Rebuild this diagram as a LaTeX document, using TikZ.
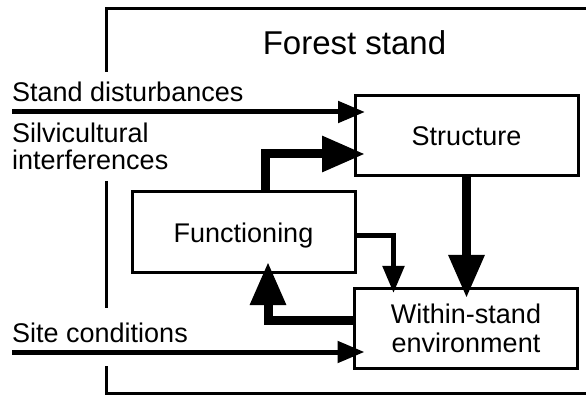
\documentclass[tikz,border=0pt]{standalone}
\usepackage{fontspec}
\setmainfont{Liberation Sans}
\usetikzlibrary{arrows.meta,calc}
\begin{document}
\begin{tikzpicture}[x=1pt,y=-1pt,
  box/.style={draw,line width=3pt,inner sep=0pt,outer sep=0pt,align=center,
    minimum width=223pt,minimum height=80pt,font=\fontsize{27}{29}\selectfont},
  lbl/.style={anchor=base west,inner sep=0pt,font=\fontsize{27}{29}\selectfont},
  frame/.style={line width=3pt},
  midarrow/.style={line width=5pt,-{Triangle[length=27pt,width=21pt]}},
  bigarrow/.style={line width=9pt,line join=miter,-{Triangle[length=43pt,width=34pt]}}]
\path[use as bounding box] (0,0) rectangle (586,395);
% frame of the forest stand
\draw[frame] (586,9) -- (106,9) -- (106,72);
\draw[frame] (106,181) -- (106,308);
\draw[frame] (106,366) -- (106,393) -- (586,393);
\node[anchor=base,inner sep=0pt,font=\fontsize{33}{33}\selectfont] (fs) at (354.5,55) {Forest stand};
% boxes
\node[box] (struct) at (466.5,136) {Structure};
\node[box,minimum height=81pt,text depth=0pt] (func) at (243.5,232.5) {Functioning};
\node[box] (within) at (466,328) {Within-stand\\environment};
% outside labels
\node[lbl] (sd) at (12,102) {Stand disturbances};
\node[lbl] (si1) at (12,143) {Silvicultural};
\node[lbl] (si2) at (12,170) {interferences};
\node[lbl] (sc) at (12,342) {Site conditions};
\coordinate (sdS) at (12,112);
\coordinate (scS) at (12,352);
% arrows
\draw[midarrow] (sdS) -- ($(struct.west |- sdS)+(10,0)$);
\draw[midarrow] (scS) -- ($(within.west |- scS)+(10,0)$);
\draw[bigarrow] ($(func.north west)+(133,0)$) |- ($(struct.west)+(10,18)$);
\draw[midarrow] ($(func.east)+(0,3.5)$) -| ($(within.north west)+(39,5)$);
\draw[bigarrow] (struct.south) -- ($(struct.south |- within.north)+(0,10)$);
\draw[bigarrow] ($(within.west)+(0,-8)$) -| ($(func.south west)+(136,-11)$);
\end{tikzpicture}
\end{document}
